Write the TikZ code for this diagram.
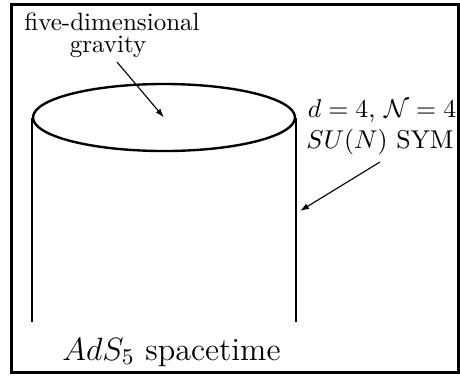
\RequirePackage{fix-cm}
\documentclass[tikz,border=0pt]{standalone}
\usetikzlibrary{arrows.meta,shapes.geometric}
\begin{document}
\begin{tikzpicture}[x=0.4pt,y=-0.4pt,
  txt/.style={inner sep=0pt,anchor=base,font=\fontsize{10}{12}\selectfont},
  ptr/.style={line width=0.45pt,-{Latex[length=3.6pt,width=2.4pt]}},
  wall/.style={line width=0.95pt}]
\useasboundingbox (0,0) rectangle (460,375);
\draw[line width=1.2pt] (11,4) rectangle (458,372);
\node[wall,draw,ellipse,minimum width=104.8pt,minimum height=26.8pt,inner sep=0pt] (top) at (164,117.5) {};
\coordinate (lb) at (33,322);
\coordinate (rb) at (295,322);
\draw[wall] (top.west) -- (top.west |- lb);
\draw[wall] (top.east) -- (top.east |- rb);
\node[txt] (l1) at (112,30.5) {five-dimensional};
\node[txt] (l2) at (108,52) {gravity};
\coordinate (gs) at (117,62);
\draw[ptr] (gs) -- (top.center);
\node[txt,font=\fontsize{10.3}{12}\selectfont] (r1) at (382,117) {$d=4$, $\mathcal{N}=4$};
\node[txt,font=\fontsize{10.3}{12}\selectfont] (r2) at (380,148) {$SU(N)$ SYM};
\coordinate (rs) at (380,162);
\coordinate (re) at (300,211);
\draw[ptr] (rs) -- (re);
\node[txt,font=\fontsize{12.9}{15}\selectfont] (ads) at (171.5,360) {$AdS_5$ spacetime};
\end{tikzpicture}
\end{document}
